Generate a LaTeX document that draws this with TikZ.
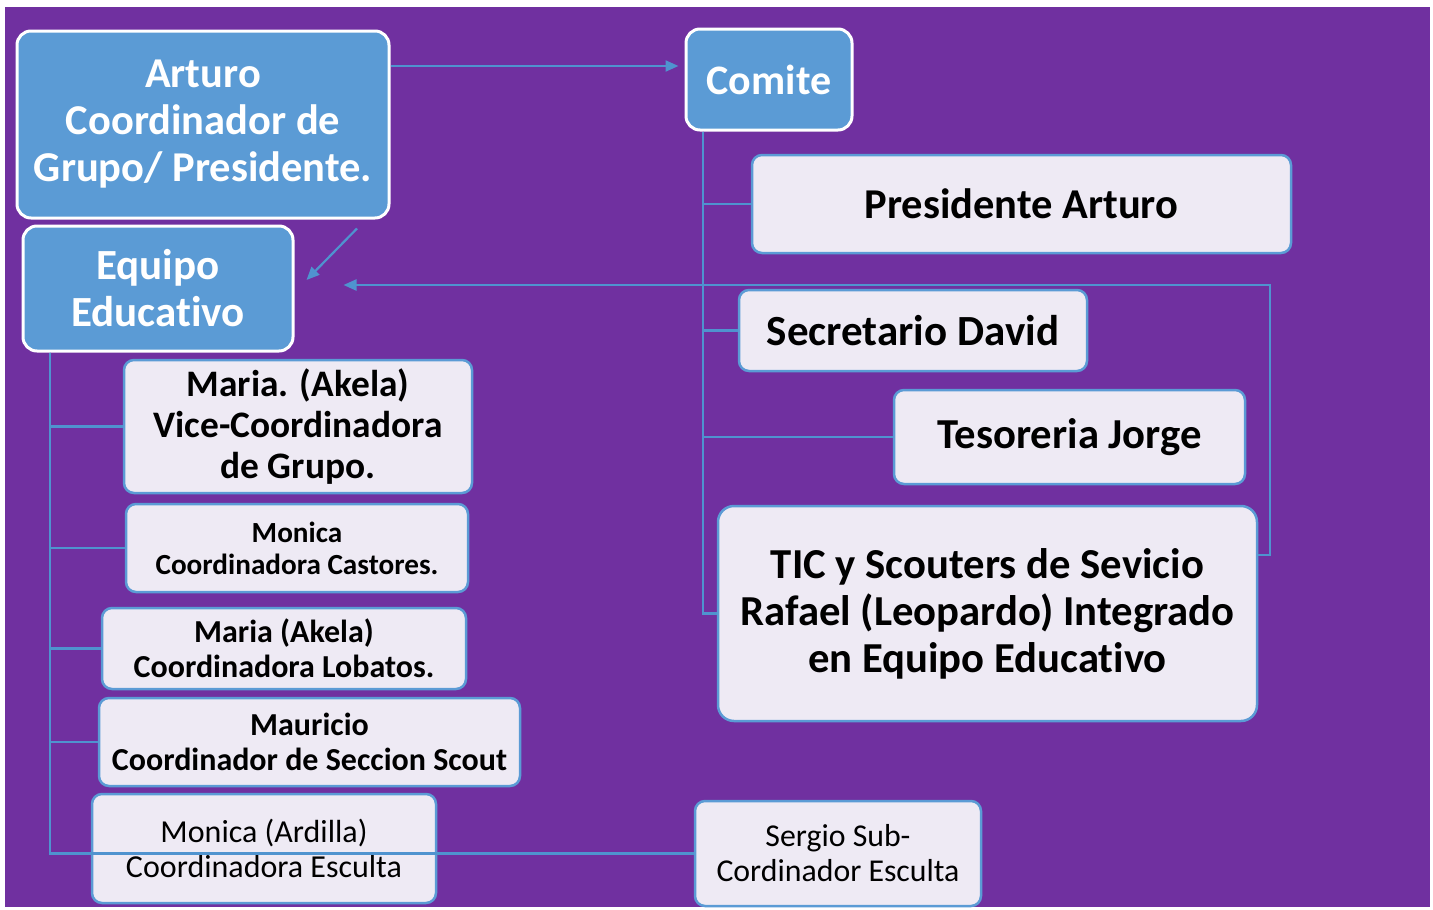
\documentclass[tikz,border=0pt]{standalone}
\usepackage{fontspec}
\setmainfont{Carlito}[RawFeature={-liga;-clig;-dlig;-calt}]
\usetikzlibrary{arrows.meta,calc}
\definecolor{bgpurple}{HTML}{7030A0}
\definecolor{boxblue}{HTML}{5B9BD5}
\definecolor{linkblue}{HTML}{4F93CF}
\definecolor{lightfill}{HTML}{EEEAF4}
\tikzset{
  bluebox/.style={draw=white, line width=3pt, fill=boxblue, rounded corners=14pt, inner sep=0pt, align=center, text=white, font=\bfseries},
  lightbox/.style={draw=boxblue, line width=2.5pt, fill=lightfill, rounded corners=10pt, inner sep=0pt, align=center, text=black},
  link/.style={draw=linkblue, line width=2.2pt},
  linkarr/.style={link, -{Triangle[length=13pt,width=11pt]}},
}
\newcommand{\fs}[2]{\fontsize{#1}{#2}\selectfont}
\begin{document}
\begin{tikzpicture}[x=1pt,y=-1pt]
\useasboundingbox (0,0) rectangle (1433,910);
\fill[white] (0,0) rectangle (1433,910);
\fill[bgpurple] (5,7) rectangle (1430,907);

% blue boxes
\node[bluebox, minimum width=372pt, minimum height=187pt, font=\bfseries\fs{42.5}{47}] (arturo) at (203,124.5) {Arturo\\Coordinador de\\Grupo/ Presidente.};
\node[bluebox, minimum width=166pt, minimum height=101pt, font=\bfseries\fs{42}{47}] (comite) at (769,79.5) {Comite};
\node[bluebox, minimum width=270pt, minimum height=125pt, font=\bfseries\fs{43}{47}] (equipo) at (158,288.5) {Equipo\\Educat\kern0pt ivo};

% right column
\node[lightbox, minimum width=539pt, minimum height=98pt, font=\bfseries\fs{42.5}{47}] (pres) at (1021.5,204) {Presidente Arturo};
\node[lightbox, minimum width=348pt, minimum height=81pt, font=\bfseries\fs{43}{47}] (secr) at (913,330.5) {Secretario David};
\node[lightbox, minimum width=351pt, minimum height=94pt, font=\bfseries\fs{42.7}{47}] (teso) at (1069.5,437) {Tesoreria Jorge};
\node[lightbox, minimum width=539pt, minimum height=215pt, rounded corners=16pt, font=\bfseries\fs{42.7}{47}] (tic) at (987.5,613.5) {TIC y Scouters de Sevicio\\Rafael (Leopardo) Integrado\\en Equipo Educat\kern0pt ivo};

% left column
\node[lightbox, minimum width=348pt, minimum height=133pt, font=\bfseries\fs{37.4}{41}] (maria1) at (298,426.5) {Maria. (Akela)\\Vice-Coordinadora\\de Grupo.};
\node[lightbox, minimum width=342pt, minimum height=88pt, font=\bfseries\fs{29.2}{32}] (monica1) at (297,548) {Monica\\Coordinadora Castores.};
\node[lightbox, minimum width=364pt, minimum height=81pt, font=\bfseries\fs{32}{35}] (maria2) at (284,648.5) {Maria (Akela)\\Coordinadora Lobatos.};
\node[lightbox, minimum width=421pt, minimum height=88pt, font=\bfseries\fs{32}{35}] (mauricio) at (309.5,742) {Mauricio\\Coordinador de Seccion Scout};
\node[lightbox, minimum width=344pt, minimum height=109pt, font=\fs{32}{35}] (monica2) at (264,848.5) {Monica (Ardilla)\\Coordinadora Esculta};
\node[lightbox, minimum width=286pt, minimum height=105pt, font=\fs{31.8}{35}] (sergio) at (838,853.5) {Sergio Sub-\\Cordinador Esculta};

% connectors
\draw[linkarr] ([yshift=58.5pt]arturo.east) -- ([shift={(-6pt,13.5pt)}]comite.west);
\draw[linkarr] ([shift={(154pt,-9pt)}]arturo.south) -- ([shift={(12pt,8.5pt)}]equipo.east);
\draw[linkarr] ([yshift=58.5pt]tic.east) -- ++(12pt,0pt) |- ([shift={(49pt,3.5pt)}]equipo.east);

\coordinate (ct) at ([xshift=-66pt]comite.south);
\draw[link] (ct) |- (pres.west);
\draw[link] (ct) |- (secr.west);
\draw[link] (ct) |- (teso.west);
\draw[link] (ct) |- (tic.west);

\coordinate (et) at ([xshift=-108pt]equipo.south);
\draw[link] (et) |- (maria1.west);
\draw[link] (et) |- (monica1.west);
\draw[link] (et) |- (maria2.west);
\draw[link] (et) |- (mauricio.west);
\draw[link] (et) |- (sergio.west);
\end{tikzpicture}
\end{document}
